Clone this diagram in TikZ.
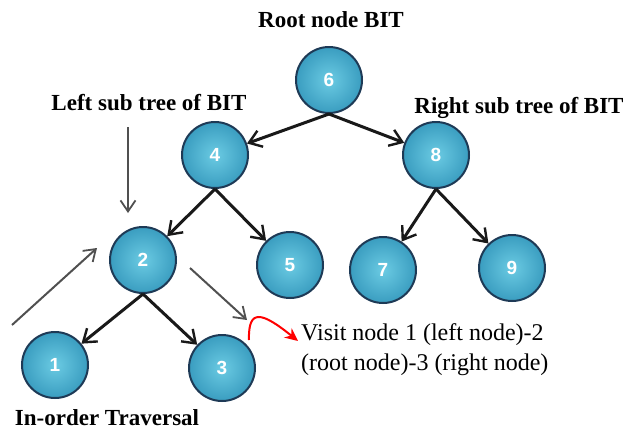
\documentclass[tikz,border=0pt]{standalone}
\usepackage{fontspec}
\setmainfont{Liberation Serif}
\newfontfamily\digitfont{Liberation Sans}
\usepackage{xcolor}
\definecolor{ballin}{HTML}{6BCBE3}
\definecolor{ballout}{HTML}{3A9DC0}
\definecolor{balledge}{HTML}{1E3A56}
\definecolor{hintgray}{HTML}{505050}
\usetikzlibrary{arrows.meta, shapes.geometric}

\begin{document}
\begin{tikzpicture}[
      x=1pt, y=-1pt,
      ball/.style={circle, minimum size=66pt, inner sep=0pt, draw=balledge, line width=2pt,
                   inner color=ballin, outer color=ballout,
                   font=\digitfont\fontsize{19}{20}\selectfont\bfseries, text=white},
      title/.style={font=\fontsize{23}{26}\selectfont\bfseries, inner sep=0pt},
      note/.style={font=\fontsize{24}{30}\selectfont, align=left, inner sep=0pt},
      edge/.style={-{Straight Barb[length=12pt, width=17pt, line width=2.4pt]}, line width=3pt, draw=black!90},
      hint/.style={-{Straight Barb[length=11pt, width=15pt, line width=1.8pt]}, line width=2pt, draw=hintgray},
      visit/.style={-{Stealth[length=13pt, width=12pt]}, line width=2pt, draw=red},
    ]
    \useasboundingbox (0,0) rectangle (629,434);

    \node[ball] (n6) at (329, 80)  {6};
    \node[ball] (n4) at (215, 155) {4};
    \node[ball] (n8) at (436, 155) {8};
    \node[ball] (n2) at (143, 260) {2};
    \node[ball] (n5) at (290, 265) {5};
    \node[ball] (n7) at (383, 270) {7};
    \node[ball] (n9) at (512, 268) {9};
    \node[ball] (n1) at (55, 365)  {1};
    \node[ball] (n3) at (222, 368) {3};

    \node[title] (root)  at (331, 20)  {Root node BIT};
    \node[title] (left)  at (149, 103) {Left sub tree of BIT};
    \node[title] (right) at (519, 108) {Right sub tree of BIT};
    \node[title] (order) at (107, 418) {In-order Traversal};
    \node[note, anchor=west] (visit) at (301, 350) {Visit node 1 (left node)-2\\(root node)-3 (right node)};

    \draw[edge] (n6.south) -- (n4);
    \draw[edge] (n6.south) -- (n8);
    \draw[edge] (n4.south) -- (n2);
    \draw[edge] (n4.south) -- (n5);
    \draw[edge] (n8.south) -- (n7);
    \draw[edge] (n8.south) -- (n9);
    \draw[edge] (n2.south) -- (n1);
    \draw[edge] (n2.south) -- (n3);

    % traversal hints
    \coordinate (downA) at (128, 127);
    \coordinate (downB) at (128, 213);
    \coordinate (upA)   at (12, 325);
    \coordinate (upB)   at (97, 248);
    \coordinate (outA)  at (190, 268);
    \coordinate (outB)  at (247, 320);
    \coordinate (curl)  at (249, 340);
    \draw[hint] (downA) -- (downB);
    \draw[hint] (upA) -- (upB);
    \draw[hint] (outA) -- (outB);
    \draw[visit] (curl) .. controls (248, 308) and (262, 312) .. ([xshift=-3pt, yshift=9pt]visit.west);
  \end{tikzpicture}
\end{document}
